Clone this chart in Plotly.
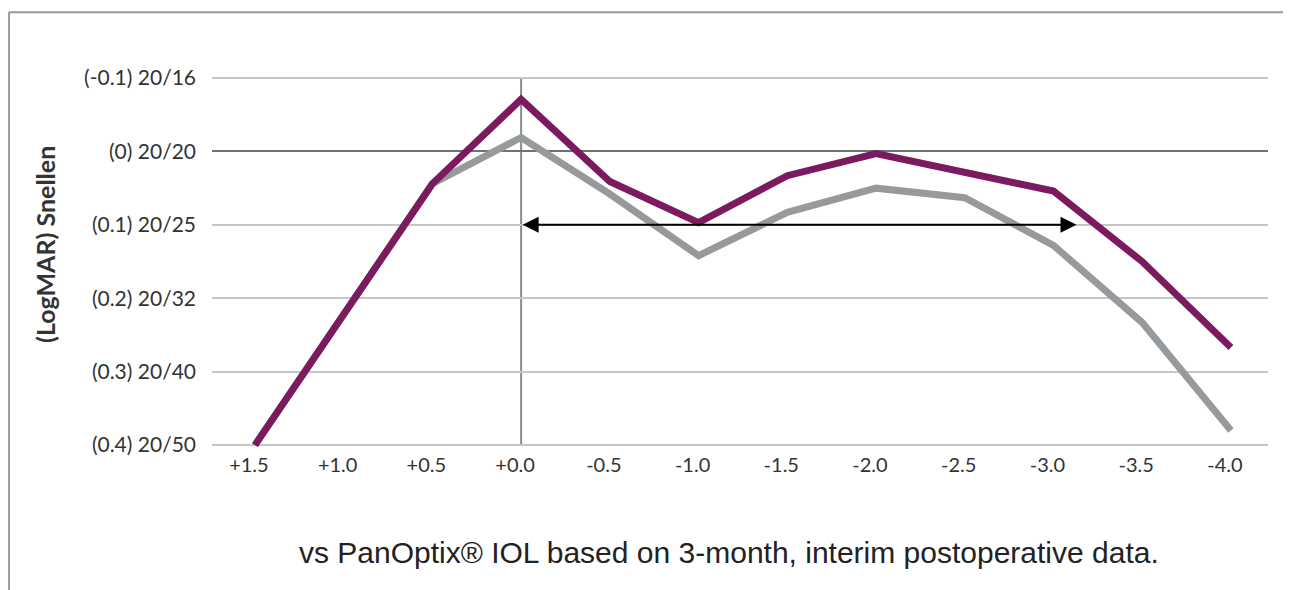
import plotly.graph_objects as go

# Defocus (D) positions and tick labels
defocus = [1.5, 1.0, 0.5, 0.0, -0.5, -1.0, -1.5, -2.0, -2.5, -3.0, -3.5, -4.0]
x_ticktext = ["+1.5", "+1.0", "+0.5", "+0.0", "-0.5", "-1.0", "-1.5", "-2.0", "-2.5", "-3.0", "-3.5", "-4.0"]

# LogMAR visual acuity values
purple_logmar = [0.40, 0.22, 0.044, -0.071, 0.041, 0.097, 0.033, 0.003, 0.029, 0.054, 0.15, 0.267]
gray_logmar = [0.40, 0.22, 0.044, -0.019, 0.058, 0.142, 0.083, 0.050, 0.063, 0.128, 0.233, 0.38]

y_tickvals = [-0.1, 0.0, 0.1, 0.2, 0.3, 0.4]
y_ticktext = ["(-0.1) 20/16", "(0) 20/20", "(0.1) 20/25", "(0.2) 20/32", "(0.3) 20/40", "(0.4) 20/50"]

# Range of the double arrow (defocus)
arrow_from = 0.0
arrow_to = -3.13
arrow_level = 0.1

y_title = "(LogMAR) Snellen"
footnote = "vs PanOptix® IOL based on 3-month, interim postoperative data."

fig = go.Figure()
fig.add_trace(go.Scatter(x=defocus, y=gray_logmar, mode="lines",
                         line=dict(color="#979a9d", width=7), showlegend=False, hoverinfo="skip"))
fig.add_trace(go.Scatter(x=defocus, y=purple_logmar, mode="lines",
                         line=dict(color="#7b1a5e", width=7), showlegend=False, hoverinfo="skip"))

# vertical line at 0.0 D
fig.add_shape(type="line", xref="x", yref="y", x0=0, x1=0, y0=y_tickvals[0], y1=y_tickvals[-1],
              line=dict(color="#8a8d90", width=2), layer="below")

# double arrow
fig.add_annotation(x=arrow_to, y=arrow_level, ax=arrow_from, ay=arrow_level,
                   xref="x", yref="y", axref="x", ayref="y", text="",
                   showarrow=True, arrowhead=2, startarrowhead=2, arrowside="end+start",
                   arrowsize=1.6, startarrowsize=1.6, arrowwidth=2, arrowcolor="#000000")

# frame lines (top and left)
fig.add_shape(type="line", xref="paper", yref="paper", x0=-0.1922, x1=1.06, y0=1.111, y1=1.111,
              line=dict(color="#9a9a9a", width=2))
fig.add_shape(type="line", xref="paper", yref="paper", x0=-0.1922, x1=-0.1922, y0=1.111, y1=-0.37,
              line=dict(color="#9a9a9a", width=2))

# y-axis title
fig.add_annotation(text=y_title, xref="paper", yref="paper", x=-0.158, y=0.522,
                   textangle=-90, xanchor="center", yanchor="middle", showarrow=False,
                   font=dict(family="Lato", size=25, color="#333333", weight="bold"))

# footnote
fig.add_annotation(text=footnote, xref="paper", yref="paper", x=0.4896, y=-0.258,
                   xanchor="center", yanchor="middle", showarrow=False,
                   font=dict(family="Liberation Sans, Arial", size=30, color="#222222"))

fig.update_layout(
    width=1283, height=582,
    margin=dict(l=204, r=23, t=48, b=139),
    paper_bgcolor="white", plot_bgcolor="white",
    font=dict(family="Lato", color="#333333"),
    xaxis=dict(range=[1.742, -4.209], tickvals=defocus, ticktext=x_ticktext,
               showgrid=False, zeroline=False, showline=False, ticks="",
               tickfont=dict(size=20, color="#333333"), ticklabelshift=6, ticklabelstandoff=0),
    yaxis=dict(range=[0.408, -0.13], tickvals=y_tickvals, ticktext=y_ticktext,
               showgrid=True, gridcolor="#c4c6c8", gridwidth=2,
               zeroline=True, zerolinecolor="#6f7274", zerolinewidth=2,
               showline=False, ticks="", ticklabelstandoff=15,
               tickfont=dict(size=21, color="#333333")),
)

fig.write_html("out.html")
